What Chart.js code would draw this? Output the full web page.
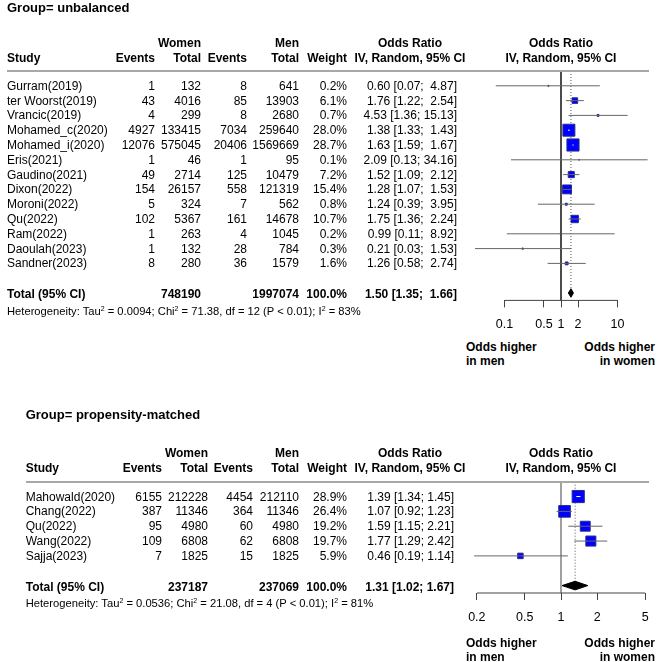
<!DOCTYPE html>
<html>
<head>
<meta charset="utf-8">
<script src="https://cdn.jsdelivr.net/npm/chart.js@4.4.1/dist/chart.umd.min.js"></script>
<style>
  html, body { margin: 0; padding: 0; background: #fff; }
  #page { position: relative; width: 660px; height: 662px; overflow: hidden; font-family: 'Liberation Sans', Arial, sans-serif; color: #000; }
  canvas { position: absolute; left: 0; }
  .t { position: absolute; font-size: 12px; line-height: 14px; white-space: pre; }
  .b { font-weight: bold; }
  .rule { position: absolute; height: 2px; background: #a8a8a8; }
  sup { font-size: 7px; vertical-align: baseline; position: relative; top: -4px; line-height: 0; }
</style>
</head>
<body>
<div id="page">
  <canvas id="forest-unbalanced" width="660" height="340" style="top:0px"></canvas>
  <canvas id="forest-matched" width="660" height="282" style="top:380px"></canvas>
</div>
<script>
// Group = unbalanced
const unbStudies = ['Gurram(2019)', 'ter Woorst(2019)', 'Vrancic(2019)', 'Mohamed_c(2020)', 'Mohamed_i(2020)', 'Eris(2021)',
  'Gaudino(2021)', 'Dixon(2022)', 'Moroni(2022)', 'Qu(2022)', 'Ram(2022)', 'Daoulah(2023)', 'Sandner(2023)'];
const unbWomenEvents = [1, 43, 4, 4927, 12076, 1, 49, 154, 5, 102, 1, 1, 8];
const unbWomenTotal = [132, 4016, 299, 133415, 575045, 46, 2714, 26157, 324, 5367, 263, 132, 280];
const unbMenEvents = [8, 85, 8, 7034, 20406, 1, 125, 558, 7, 161, 4, 28, 36];
const unbMenTotal = [641, 13903, 2680, 259640, 1569669, 95, 10479, 121319, 562, 14678, 1045, 784, 1579];
const unbWeight = [0.2, 6.1, 0.7, 28.0, 28.7, 0.1, 7.2, 15.4, 0.8, 10.7, 0.2, 0.3, 1.6];
const unbOR = [0.60, 1.76, 4.53, 1.38, 1.63, 2.09, 1.52, 1.28, 1.24, 1.75, 0.99, 0.21, 1.26];
const unbLower = [0.07, 1.22, 1.36, 1.33, 1.59, 0.13, 1.09, 1.07, 0.39, 1.36, 0.11, 0.03, 0.58];
const unbUpper = [4.87, 2.54, 15.13, 1.43, 1.67, 34.16, 2.12, 1.53, 3.95, 2.24, 8.92, 1.53, 2.74];
const unbPooled = [1.50, 1.35, 1.66];
const unbHetero = { tau2: '0.0094', chi2: '71.38', df: 12, p: '< 0.01', i2: '83%' };
const unbTicks = [0.1, 0.5, 1, 2, 10];

// Group = propensity-matched
const pmStudies = ['Mahowald(2020)', 'Chang(2022)', 'Qu(2022)', 'Wang(2022)', 'Sajja(2023)'];
const pmWomenEvents = [6155, 387, 95, 109, 7];
const pmWomenTotal = [212228, 11346, 4980, 6808, 1825];
const pmMenEvents = [4454, 364, 60, 62, 15];
const pmMenTotal = [212110, 11346, 4980, 6808, 1825];
const pmWeight = [28.9, 26.4, 19.2, 19.7, 5.9];
const pmOR = [1.39, 1.07, 1.59, 1.77, 0.46];
const pmLower = [1.34, 0.92, 1.15, 1.29, 0.19];
const pmUpper = [1.45, 1.23, 2.21, 2.42, 1.14];
const pmPooled = [1.31, 1.02, 1.67];
const pmHetero = { tau2: '0.0536', chi2: '21.08', df: 4, p: '< 0.01', i2: '81%' };
const pmTicks = [0.2, 0.5, 1, 2, 5];

const totalWeight = 100.0;

const page = document.getElementById('page');
const FONT = "'Liberation Sans', Arial, sans-serif";

// place a piece of text; y is the visual centre of the line
function addText(html, x, y, align, cls, size) {
  const el = document.createElement('div');
  el.className = 't' + (cls ? ' ' + cls : '');
  el.innerHTML = html;
  el.style.top = (y - 7) + 'px';
  if (size) el.style.fontSize = size + 'px';
  if (align === 'right') {
    el.style.right = (660 - x) + 'px';
  } else if (align === 'center') {
    el.style.left = x + 'px';
    el.style.transform = 'translateX(-50%)';
  } else {
    el.style.left = x + 'px';
  }
  page.appendChild(el);
}

function addRule(x1, x2, y) {
  const el = document.createElement('div');
  el.className = 'rule';
  el.style.left = x1 + 'px';
  el.style.width = (x2 - x1) + 'px';
  el.style.top = (y - 1) + 'px';
  page.appendChild(el);
}

const sum = arr => arr.reduce((a, b) => a + b, 0);

function ciText(est, lo, hi, width) {
  return est.toFixed(2) + ' [' + lo.toFixed(2) + '; ' + hi.toFixed(2).padStart(width) + ']';
}

function drawPanel(p) {
  const n = p.studies.length;
  const rowH = (p.axisY - p.lineY) / (n + 2.5);
  const rowY = i => p.lineY + (i + 1) * rowH;
  const c = p.cols; // right edges: events, total, events, total, weight, OR

  // titles and column headers
  addText(p.title, p.left, p.titleY, 'left', 'b', 13);
  addText('Women', c[1], p.lineY - 28.5, 'right', 'b');
  addText('Men', c[3], p.lineY - 28.5, 'right', 'b');
  addText('Odds Ratio', 410, p.lineY - 28.5, 'center', 'b');
  addText('Odds Ratio', 561, p.lineY - 28.5, 'center', 'b');
  const hy = p.lineY - 13.3;
  addText('Study', p.left, hy, 'left', 'b');
  addText('Events', c[0], hy, 'right', 'b');
  addText('Total', c[1], hy, 'right', 'b');
  addText('Events', c[2], hy, 'right', 'b');
  addText('Total', c[3], hy, 'right', 'b');
  addText('Weight', c[4], hy, 'right', 'b');
  addText('IV, Random, 95% CI', 410, hy, 'center', 'b');
  addText('IV, Random, 95% CI', 561, hy, 'center', 'b');
  addRule(p.left, 649, p.lineY);

  // study rows
  const width = Math.max(...p.upper.map(v => v.toFixed(2).length), p.pooled[2].toFixed(2).length);
  p.studies.forEach((s, i) => {
    const y = rowY(i);
    addText(s, p.left, y, 'left');
    addText(String(p.womenEvents[i]), c[0], y, 'right');
    addText(String(p.womenTotal[i]), c[1], y, 'right');
    addText(String(p.menEvents[i]), c[2], y, 'right');
    addText(String(p.menTotal[i]), c[3], y, 'right');
    addText(p.weight[i].toFixed(1) + '%', c[4], y, 'right');
    addText(ciText(p.or[i], p.lower[i], p.upper[i], width), c[5], y, 'right');
  });

  // total row
  const ty = rowY(n + 1) + 1;
  addText('Total (95% CI)', p.left, ty, 'left', 'b');
  addText(String(sum(p.womenTotal)), c[1], ty, 'right', 'b');
  addText(String(sum(p.menTotal)), c[3], ty, 'right', 'b');
  addText(totalWeight.toFixed(1) + '%', c[4], ty, 'right', 'b');
  addText(ciText(p.pooled[0], p.pooled[1], p.pooled[2], width), c[5], ty, 'right', 'b');
  const h = p.hetero;
  addText('Heterogeneity: Tau<sup>2</sup> = ' + h.tau2 + '; Chi<sup>2</sup> = ' + h.chi2 + ', df = ' + h.df +
    ' (P ' + h.p.replace('<', '&lt;') + '); I<sup>2</sup> = ' + h.i2, p.left, ty + 16.5, 'left', '', 11.2);

  // direction labels
  addText('Odds higher', 466, p.axisY + p.noteDy, 'left', 'b');
  addText('in men', 466, p.axisY + p.noteDy + 14, 'left', 'b');
  addText('Odds higher', 655, p.axisY + p.noteDy, 'right', 'b');
  addText('in women', 655, p.axisY + p.noteDy + 14, 'right', 'b');

  // forest plot
  const totalRow = n + 1;
  const datasets = [];
  datasets.push({ // line of no effect
    data: [{ x: 1, y: -1 }, { x: 1, y: n + 1.5 }],
    showLine: true, borderColor: p.refColor, borderWidth: p.refWidth, order: 5
  });
  datasets.push({ // pooled estimate
    data: [{ x: p.pooled[0], y: -1 }, { x: p.pooled[0], y: totalRow }],
    showLine: true, borderColor: '#555', borderWidth: 1, borderDash: [1, 2], order: 4
  });
  datasets.push({ // axis line between first and last tick
    data: [{ x: p.ticks[0], y: n + 1.5 }, { x: p.ticks[p.ticks.length - 1], y: n + 1.5 }],
    showLine: true, borderColor: '#444', borderWidth: 1, order: 4
  });
  datasets.push({ // study squares
    data: p.or.map((v, i) => ({ x: v, y: i })),
    pointStyle: 'rect',
    pointRadius: p.weight.map(w => 1.6 * Math.sqrt(w)),
    pointBackgroundColor: '#0000ff',
    pointBorderColor: '#2a2a8c',
    pointBorderWidth: 1,
    order: 3
  });
  p.lower.forEach((lo, i) => {
    datasets.push({ // confidence interval
      data: [{ x: lo, y: i }, { x: p.upper[i], y: i }],
      showLine: true, borderWidth: 1, order: 2,
      borderColor: (ctx) => {
        const xs = ctx.chart.scales.x;
        if (!xs) return '#666';
        const w = xs.getPixelForValue(p.upper[i]) - xs.getPixelForValue(lo);
        return w < 2.26 * Math.sqrt(p.weight[i]) - 1 ? '#ffffff' : '#666666';
      }
    });
  });
  datasets.push({ // pooled diamond
    data: [
      { x: p.pooled[1], y: totalRow }, { x: p.pooled[0], y: totalRow - 0.29 },
      { x: p.pooled[2], y: totalRow }, { x: p.pooled[0], y: totalRow + 0.29 },
      { x: p.pooled[1], y: totalRow }
    ],
    showLine: true, fill: 'shape', backgroundColor: '#000', borderColor: '#000', borderWidth: 1, order: 1
  });

  const canvasH = p.canvas.height;
  return new Chart(p.canvas, {
    type: 'scatter',
    data: { datasets: datasets },
    options: {
      responsive: false,
      animation: false,
      events: [],
      layout: { padding: { left: 474, right: 12, top: p.lineY - p.canvasTop, bottom: 0 } },
      elements: { point: { radius: 0 }, line: { tension: 0 } },
      datasets: { scatter: { clip: false } },
      plugins: { legend: { display: false }, tooltip: { enabled: false } },
      scales: {
        x: {
          type: 'logarithmic',
          min: 1 / p.xMax,
          max: p.xMax,
          afterBuildTicks: axis => { axis.ticks = p.ticks.map(v => ({ value: v })); },
          afterFit: scale => { scale.height = canvasH - (p.axisY - p.canvasTop); },
          border: { display: false },
          grid: { drawOnChartArea: false, drawTicks: true, tickLength: 7, color: '#444', lineWidth: 1 },
          ticks: {
            padding: 10, color: '#000', autoSkip: false, maxRotation: 0,
            font: { family: FONT, size: 12.5 },
            callback: v => String(v)
          }
        },
        y: { type: 'linear', display: false, reverse: true, min: -1, max: n + 1.5 }
      }
    }
  });
}

drawPanel({
  canvas: document.getElementById('forest-unbalanced'), canvasTop: 0,
  title: 'Group= unbalanced', titleY: 7.5, left: 7,
  lineY: 71, axisY: 300.4, noteDy: 46.6,
  cols: [155, 201, 247, 299, 347, 457],
  studies: unbStudies, womenEvents: unbWomenEvents, womenTotal: unbWomenTotal,
  menEvents: unbMenEvents, menTotal: unbMenTotal, weight: unbWeight,
  or: unbOR, lower: unbLower, upper: unbUpper, pooled: unbPooled, hetero: unbHetero,
  ticks: unbTicks, xMax: 34.7, refColor: '#333', refWidth: 1
});

drawPanel({
  canvas: document.getElementById('forest-matched'), canvasTop: 380,
  title: 'Group= propensity-matched', titleY: 415, left: 25.7,
  lineY: 481.7, axisY: 593, noteDy: 50,
  cols: [162, 208, 253, 299, 347, 454],
  studies: pmStudies, womenEvents: pmWomenEvents, womenTotal: pmWomenTotal,
  menEvents: pmMenEvents, menTotal: pmMenTotal, weight: pmWeight,
  or: pmOR, lower: pmLower, upper: pmUpper, pooled: pmPooled, hetero: pmHetero,
  ticks: pmTicks, xMax: 5.28, refColor: '#a0a0a0', refWidth: 2
});
</script>
</body>
</html>
